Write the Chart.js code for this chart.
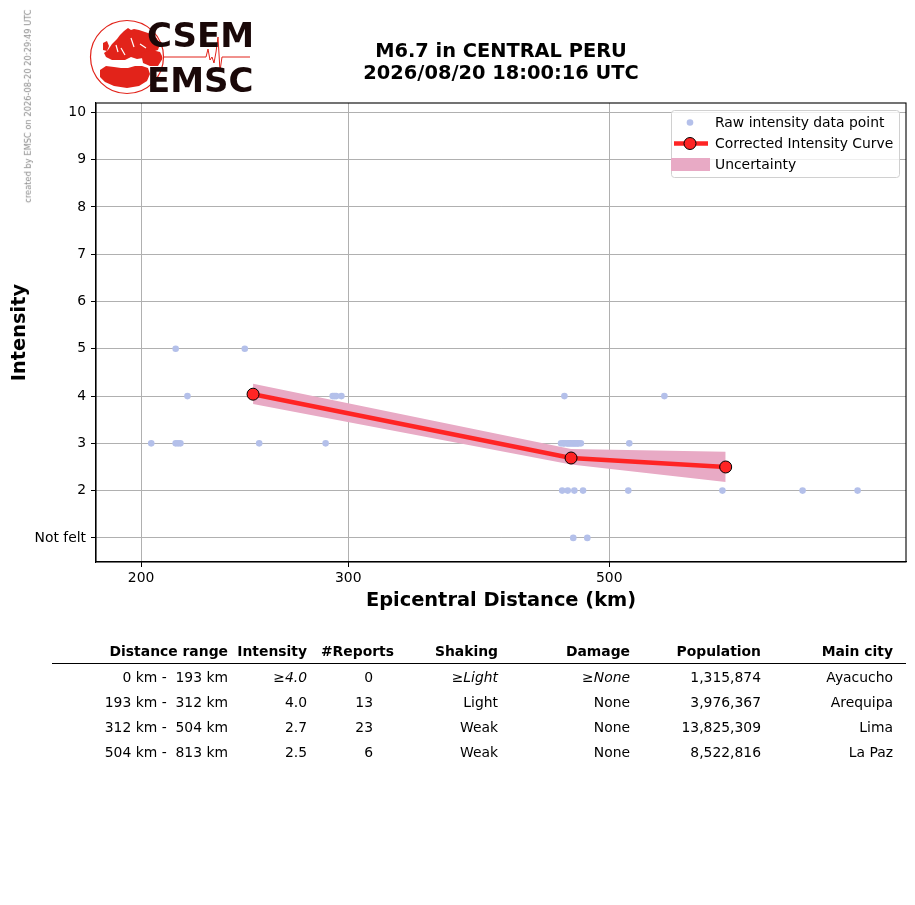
<!DOCTYPE html>
<html>
<head>
<meta charset="utf-8">
<script src="https://cdn.jsdelivr.net/npm/chart.js@4.4.1/dist/chart.umd.min.js"></script>
<style>
  html, body { margin: 0; padding: 0; background: #fff; }
  #page { position: relative; width: 915px; height: 905px; overflow: hidden; font-family: "DejaVu Sans", sans-serif; }
  #chart { position: absolute; left: 0; top: 0; }
  #logo { position: absolute; left: 0; top: 0; }
  .t { position: absolute; white-space: pre; line-height: 1; color: #000; }
  .title { font-size: 19.4px; font-weight: bold; text-align: center; }
  .logoText { font-size: 34px; font-weight: bold; color: #1a0808; left: 147px; }
  .stamp { font-size: 8.3px; color: #8a8a8a; width: 220px; text-align: center; left: -82px; top: 102px; transform: rotate(-90deg); }
  .cell { font-size: 13.9px; text-align: right; }
  .hd { font-weight: bold; }
  .it { font-style: italic; }
  #rule { position: absolute; left: 52px; top: 663px; width: 854px; height: 1.4px; background: #000; }
</style>
</head>
<body>
<div id="page">
  <canvas id="logo" width="260" height="100"></canvas>
  <div class="t logoText" style="top:18px">CSEM</div>
  <div class="t logoText" style="top:63px">EMSC</div>
  <div class="t stamp">created by EMSC on 2026-08-20 20:29:49 UTC</div>
  <div class="t title" style="left:0;width:1002px;top:40.5px">M6.7 in CENTRAL PERU</div>
  <div class="t title" style="left:0;width:1002px;top:62.5px">2026/08/20 18:00:16 UTC</div>
  <canvas id="chart" width="915" height="905"></canvas>
  <div id="rule"></div>
  <div id="table"></div>
</div>

<script>
// raw intensity reports (distance km, intensity)
const rawDistance = [
  214, 245,
  219, 291, 292, 293, 296, 458, 557,
  204, 214, 215, 216, 252, 287,
  455, 457, 458, 460, 461, 462, 463, 464, 465, 466, 467, 468, 469, 470, 471, 473,
  520,
  456, 461, 467, 475, 519, 624, 730, 813,
  466, 479
];
const rawIntensity = [
  5, 5,
  4, 4, 4, 4, 4, 4, 4,
  3, 3, 3, 3, 3, 3,
  3, 3, 3, 3, 3, 3, 3, 3, 3, 3, 3, 3, 3, 3, 3, 3,
  3,
  2, 2, 2, 2, 2, 2, 2, 2,
  1, 1
];

// corrected curve and its uncertainty band
const curveDistance = [249, 464, 628];
const curveIntensity = [4.04, 2.69, 2.5];
const bandUpper = [4.26, 2.88, 2.82];
const bandLower = [3.83, 2.55, 2.18];

// axis ticks
const xTicks = [200, 300, 500];
const yTicks = [1, 2, 3, 4, 5, 6, 7, 8, 9, 10];

// summary table
const tableHeaders = ['Distance range', 'Intensity', '#Reports', 'Shaking', 'Damage', 'Population', 'Main city'];
const distanceRanges = ['0 km -  193 km', '193 km -  312 km', '312 km -  504 km', '504 km -  813 km'];
const rangeIntensity = ['\u22654.0', '4.0', '2.7', '2.5'];
const rangeReports = ['0', '13', '23', '6'];
const rangeShaking = ['\u2265Light', 'Light', 'Weak', 'Weak'];
const rangeDamage = ['\u2265None', 'None', 'None', 'None'];
const rangePopulation = ['1,315,874', '3,976,367', '13,825,309', '8,522,816'];
const rangeCity = ['Ayacucho', 'Arequipa', 'Lima', 'La Paz'];

const rawColor = 'rgb(180,192,234)';
const curveColor = '#ff2424';
const bandColor = 'rgb(232,170,197)';

const toXY = (xs, ys) => xs.map((x, i) => ({ x: x, y: ys[i] }));

// table
(function () {
  const table = document.getElementById('table');
  const rightEdges = [228, 307, 394, 498, 630, 761, 893];
  const valueEdges = [228, 307, 373, 498, 630, 761, 893];
  const columns = [distanceRanges, rangeIntensity, rangeReports, rangeShaking, rangeDamage, rangePopulation, rangeCity];
  const rowTops = [670.5, 695.5, 720.5, 745.5];
  const add = (text, right, top, cls) => {
    const d = document.createElement('div');
    d.className = 't cell ' + cls;
    d.style.right = (915 - right) + 'px';
    d.style.top = top + 'px';
    d.textContent = text;
    table.appendChild(d);
  };
  tableHeaders.forEach((h, c) => add(h, rightEdges[c], 644.5, 'hd'));
  columns.forEach((col, c) => {
    col.forEach((v, r) => {
      const italic = r === 0 && (c === 1 || c === 3 || c === 4);
      add(v, valueEdges[c], rowTops[r], italic ? 'it' : '');
    });
  });
})();

// logo graphics
(function () {
  const ctx = document.getElementById('logo').getContext('2d');
  const red = '#e2231a';
  const poly = (pts) => {
    ctx.beginPath();
    pts.forEach((p, i) => i ? ctx.lineTo(p[0], p[1]) : ctx.moveTo(p[0], p[1]));
    ctx.closePath();
    ctx.fill();
  };
  ctx.strokeStyle = red;
  ctx.lineWidth = 1.2;
  ctx.beginPath();
  ctx.arc(127, 57, 36.5, 0, Math.PI * 2);
  ctx.stroke();

  ctx.save();
  ctx.beginPath();
  ctx.arc(127, 57, 35.5, 0, Math.PI * 2);
  ctx.clip();
  ctx.fillStyle = red;
  // Europe
  poly([[108,50],[112,44],[117,39],[120,35],[124,31],[128,28],[131,30],[134,29],[139,30],[145,32],[151,34],[157,38],
    [160,44],[158,50],[152,52],[147,55],[143,58],[137,59],[131,57],[125,60],[119,60],[112,60],[106,57],[104,53]]);
  // British isles
  poly([[103,43],[107,41],[109,46],[107,51],[103,50]]);
  // Middle East
  poly([[141,53],[152,50],[160,52],[163,58],[158,66],[150,66],[143,63]]);
  // Africa
  poly([[100,70],[106,66],[114,67],[121,68],[128,68],[135,66],[142,66],[148,68],[150,74],[147,81],[139,86],
    [127,88],[114,86],[105,82],[100,77]]);
  // small seas and gaps
  ctx.strokeStyle = '#fff';
  ctx.lineWidth = 1.2;
  ctx.beginPath();
  ctx.moveTo(121, 48); ctx.lineTo(125, 55);
  ctx.moveTo(131, 38); ctx.lineTo(134, 47);
  ctx.moveTo(140, 44); ctx.lineTo(146, 48);
  ctx.moveTo(116, 45); ctx.lineTo(118, 52);
  ctx.stroke();
  ctx.restore();

  // seismogram trace
  ctx.strokeStyle = red;
  ctx.lineWidth = 1;
  ctx.beginPath();
  const trace = [[163,57],[206,57],[208,49],[210,60],[212,57],[214,63],[216,52],[218,37],[220,71],[222,57],[250,57]];
  trace.forEach((p, i) => i ? ctx.lineTo(p[0], p[1]) : ctx.moveTo(p[0], p[1]));
  ctx.stroke();
})();

// frame around the plot area
const framePlugin = {
  id: 'frame',
  afterDatasetsDraw(chart) {
    const { ctx, chartArea: a } = chart;
    ctx.save();
    ctx.strokeStyle = '#000';
    ctx.lineWidth = 1.1;
    ctx.strokeRect(a.left, a.top, a.right - a.left, a.bottom - a.top);
    ctx.restore();
  }
};

// legend box in the upper right corner
const legendPlugin = {
  id: 'boxLegend',
  afterDraw(chart) {
    const ctx = chart.ctx;
    ctx.save();
    ctx.fillStyle = 'rgba(255,255,255,0.8)';
    ctx.strokeStyle = '#d0d0d0';
    ctx.lineWidth = 1;
    ctx.beginPath();
    ctx.roundRect(671.5, 110.5, 228, 67, 3);
    ctx.fill();
    ctx.stroke();

    ctx.fillStyle = rawColor;
    ctx.beginPath();
    ctx.arc(690, 122.5, 3.3, 0, Math.PI * 2);
    ctx.fill();

    ctx.strokeStyle = curveColor;
    ctx.lineWidth = 4.5;
    ctx.beginPath();
    ctx.moveTo(674, 143.5);
    ctx.lineTo(708, 143.5);
    ctx.stroke();
    ctx.fillStyle = curveColor;
    ctx.strokeStyle = '#000';
    ctx.lineWidth = 1;
    ctx.beginPath();
    ctx.arc(690, 143.5, 6, 0, Math.PI * 2);
    ctx.fill();
    ctx.stroke();

    ctx.fillStyle = bandColor;
    ctx.fillRect(671, 158, 39, 13);

    ctx.fillStyle = '#000';
    ctx.font = '13.9px "DejaVu Sans"';
    ctx.textBaseline = 'middle';
    ctx.fillText('Raw intensity data point', 715, 123);
    ctx.fillText('Corrected Intensity Curve', 715, 144);
    ctx.fillText('Uncertainty', 715, 165);
    ctx.restore();
  }
};

new Chart(document.getElementById('chart'), {
  type: 'scatter',
  data: {
    datasets: [
      {
        label: 'Raw intensity data point',
        data: toXY(rawDistance, rawIntensity),
        backgroundColor: rawColor,
        borderWidth: 0,
        pointRadius: 3.3,
        order: 1
      },
      {
        label: 'Corrected Intensity Curve',
        data: toXY(curveDistance, curveIntensity),
        showLine: true,
        borderColor: curveColor,
        borderWidth: 4.5,
        backgroundColor: curveColor,
        pointBackgroundColor: curveColor,
        pointBorderColor: '#000',
        pointBorderWidth: 1,
        pointRadius: 6,
        order: 0
      },
      {
        label: 'Uncertainty',
        data: toXY(curveDistance, bandUpper),
        showLine: true,
        borderWidth: 0,
        pointRadius: 0,
        backgroundColor: bandColor,
        fill: '+1',
        order: 2
      },
      {
        label: 'Uncertainty lower',
        data: toXY(curveDistance, bandLower),
        showLine: true,
        borderWidth: 0,
        pointRadius: 0,
        backgroundColor: bandColor,
        fill: false,
        order: 2
      }
    ]
  },
  options: {
    responsive: false,
    animation: false,
    events: [],
    layout: { padding: { left: 0, top: 103, right: 9, bottom: 291 } },
    plugins: { legend: { display: false }, tooltip: { enabled: false } },
    scales: {
      x: {
        type: 'logarithmic',
        min: 183.1,
        max: 893.8,
        afterBuildTicks: (scale) => { scale.ticks = xTicks.map(v => ({ value: v })); },
        afterFit: (scale) => { scale.height = 52; },
        ticks: {
          color: '#000',
          font: { family: 'DejaVu Sans', size: 13.9 },
          padding: 3,
          maxRotation: 0,
          autoSkip: false,
          callback: (v) => String(v)
        },
        grid: { color: '#b0b0b0', lineWidth: 1, tickColor: '#000', tickLength: 5 },
        border: { display: true, color: '#000', width: 1.1 },
        title: {
          display: true,
          text: 'Epicentral Distance (km)',
          color: '#000',
          font: { family: 'DejaVu Sans', size: 19.4, weight: 'bold' },
          padding: { top: 0, bottom: 1.3 }
        }
      },
      y: {
        min: 0.49,
        max: 10.2,
        afterBuildTicks: (scale) => { scale.ticks = yTicks.map(v => ({ value: v })); },
        afterFit: (scale) => { scale.width = 96; },
        ticks: {
          color: '#000',
          font: { family: 'DejaVu Sans', size: 13.9 },
          padding: 5,
          autoSkip: false,
          callback: (v) => (v === 1 ? 'Not felt' : String(v))
        },
        grid: { color: '#b0b0b0', lineWidth: 1, tickColor: '#000', tickLength: 5 },
        border: { display: true, color: '#000', width: 1.1 },
        title: {
          display: true,
          text: 'Intensity',
          color: '#000',
          font: { family: 'DejaVu Sans', size: 19.4, weight: 'bold' },
          padding: { top: 8.3, bottom: 0 }
        }
      }
    }
  },
  plugins: [framePlugin, legendPlugin]
});
</script>
</body>
</html>
